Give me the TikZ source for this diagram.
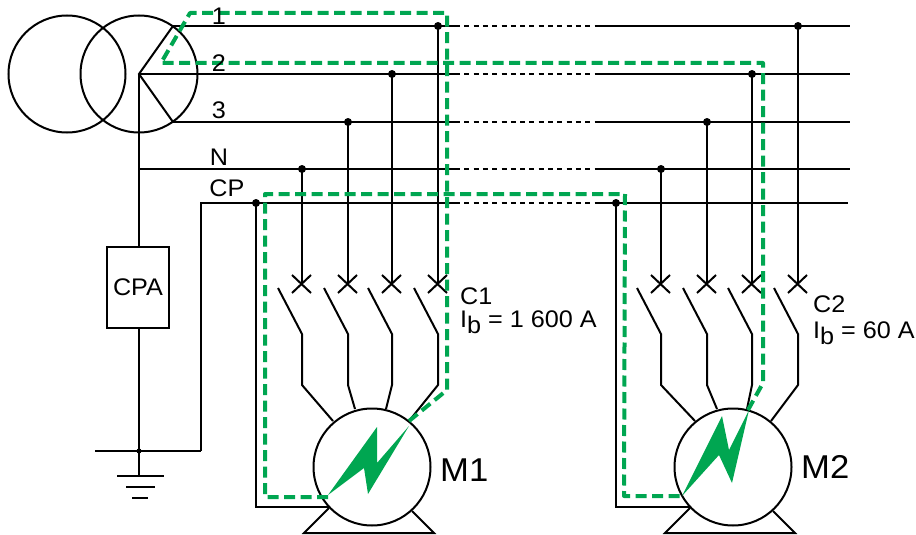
\documentclass[tikz,border=0pt]{standalone}
\usepackage{fontspec}
\setmainfont[FakeStretch=1.05]{Liberation Sans}
\definecolor{fault}{HTML}{00A651}
\tikzset{
  wire/.style={line width=2pt,black,line join=miter},
  busdash/.style={line width=2pt,black,dash pattern=on 5pt off 4.3pt},
  faultpath/.style={line width=4pt,fault,dash pattern=on 11pt off 5.5pt,line join=round},
  spark/.style={fill=fault,draw=none},
  junction/.style={circle,fill=black,inner sep=0pt,minimum size=8pt},
  smalljunction/.style={circle,fill=black,inner sep=0pt,minimum size=5pt},
  lbl/.style={inner sep=0pt,font=\fontsize{24}{25}\selectfont},
  lblleft/.style={lbl,anchor=north west,align=left},
  motorlbl/.style={inner sep=0pt,anchor=west,font=\fontsize{33}{36}\selectfont},
  prot/.style={draw=black,line width=2pt,fill=white,minimum width=62pt,minimum height=81pt,inner sep=0pt,font=\fontsize{24}{25}\selectfont},
  winding/.style={draw=black,line width=2pt,circle,minimum size=117pt,inner sep=0pt},
}
% #1 x of the drop line, #2 y of its bus, #3 x of motor terminal, #4 y of motor terminal
\newcommand{\polebranch}[4]{%
  \draw[wire] (#1,#2) -- (#1,284);
  \draw[wire] (#1-10,275) -- (#1+9,293) (#1-10,293) -- (#1+9,275);
  \draw[wire] (#1-24,288) -- (#1,334) -- (#1,385) -- (#3,#4);
}
\begin{document}
\begin{tikzpicture}[x=1pt,y=-1pt]
\useasboundingbox (0,0) rectangle (916,535);
% transformer
\node[winding] (primary) at (67,74) {};
\node[winding] (secondary) at (139,74) {};
\coordinate (star) at (139,74);
\coordinate (t1) at (173,26);
\coordinate (t3) at (173,122);
% buses
\coordinate (b1a) at (455,26);  \coordinate (b1b) at (600,26);  \coordinate (b1e) at (850,26);
\coordinate (b2a) at (455,74);  \coordinate (b2b) at (597,74);  \coordinate (b2e) at (850,74);
\coordinate (b3a) at (455,122); \coordinate (b3b) at (598,122); \coordinate (b3e) at (850,122);
\coordinate (bna) at (455,169); \coordinate (bnb) at (600,169); \coordinate (bne) at (850,169);
\coordinate (bpa) at (455,203); \coordinate (bpb) at (600,203); \coordinate (bpe) at (848,203);
\coordinate (ns) at (139,169);
\coordinate (ps) at (201,203);
\coordinate (pg) at (201,451);
\node[smalljunction] (gnd) at (139,451) {};
\coordinate (gl) at (95,451);
\coordinate (ge) at (139,476);
\draw[wire] (t1) -- (star) -- (t3);
\draw[wire] (t1) -- (b1a) (b1b) -- (b1e);
\draw[wire] (star) -- (b2a) (b2b) -- (b2e);
\draw[wire] (t3) -- (b3a) (b3b) -- (b3e);
\draw[wire] (ns) -- (bna) (bnb) -- (bne);
\draw[wire] (pg) -- (ps) -- (bpa) (bpb) -- (bpe);
\draw[busdash] (b1a) -- (b1b) (b2a) -- (b2b) (b3a) -- (b3b) (bna) -- (bnb) (bpa) -- (bpb);
% CPA and earth
\node[prot] (cpa) at (138,287.5) {CPA};
\draw[wire] (star) -- (139,247);
\draw[wire] (139,328) -- (gnd.center) -- (ge);
\draw[wire] (gl) -- (pg);
\draw[wire] (117,476) -- (164,476) (126,487) -- (155,487) (132,498) -- (148,498);
% motors
\node[winding] (m1) at (372,467) {};
\node[winding] (m2) at (733,467) {};
\draw[wire] (329,508) -- (304,533) -- (434,533) -- (412,511);
\draw[wire] (690,508) -- (665,533) -- (795,533) -- (773,511);
% branches C1
\polebranch{302}{169}{333}{421}
\polebranch{348}{122}{355}{409}
\polebranch{392}{74}{386}{409}
\polebranch{438}{26}{409}{421}
% branches C2
\polebranch{661}{169}{695}{421}
\polebranch{707}{122}{717}{409}
\polebranch{752}{74}{747}{409}
\polebranch{798}{26}{771}{421}
% protective conductors
\coordinate (pe1) at (256,507);
\coordinate (pe2) at (616,507);
\node[junction] (j1p) at (256,203) {};
\node[junction] (j2p) at (616,203) {};
\draw[wire] (j1p.center) -- (pe1) -- (329,507);
\draw[wire] (j2p.center) -- (pe2) -- (690,507);
% junctions
\node[junction] (j1n) at (302,169) {};
\node[junction] (j13) at (348,122) {};
\node[junction] (j12) at (392,74) {};
\node[junction] (j11) at (438,26) {};
\node[junction] (j2n) at (661,169) {};
\node[junction] (j23) at (707,122) {};
\node[junction] (j22) at (752,74) {};
\node[junction] (j21) at (798,26) {};
% fault
\fill[spark] (328,495) -- (377,427) -- (377,463) -- (409,426) -- (368,494) -- (364,468) -- cycle;
\fill[spark] (682,496) -- (722,416) -- (729,450) -- (749,410) -- (732,483) -- (719,455) -- cycle;
\draw[faultpath] (409,421) -- (447,390) -- (447,13) -- (190,13) -- (161,63) -- (763,63) -- (763,383) -- (748,410);
\draw[faultpath] (328,497) -- (265,497) -- (265,194) -- (625,194) -- (624,496) -- (682,496);
% labels
\node[lbl] (l1) at (219,16) {1};
\node[lbl] (l2) at (219,63) {2};
\node[lbl] (l3) at (219,110) {3};
\node[lbl] (ln) at (219,157) {N};
\node[lbl] (lp) at (227,188) {CP};
\node[lblleft] (c1) at (460,288) {C1\\[-2pt]I\raisebox{-6pt}{b} = 1 600 A};
\node[lblleft] (c2) at (813,296) {C2\\[1pt]I\raisebox{-6pt}{b} = 60 A};
\node[motorlbl] (m1l) at (440,470) {M1};
\node[motorlbl] (m2l) at (801,467) {M2};
\end{tikzpicture}
\end{document}
